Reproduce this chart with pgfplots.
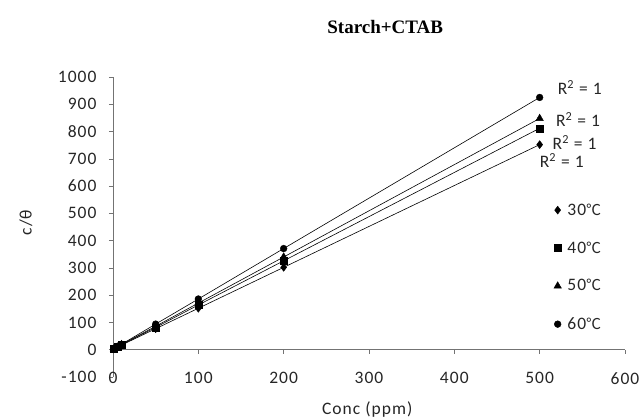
\documentclass[border=0pt]{standalone}
\usepackage{fontspec}
\setmainfont{Carlito}
\newfontfamily\tickfont{Carlito}[LetterSpace=6]
\newfontfamily\titlefont{Liberation Serif}
\newfontfamily\cjk{Noto Sans CJK SC}
\newcommand{\degC}{{\cjk\fontsize{15}{17}\selectfont ℃}}
\usepackage{pgfplots}
\pgfplotsset{compat=1.18}
\begin{document}
\begin{tikzpicture}
\begin{axis}[
  at={(0,0)}, anchor=south west,
  scale only axis, width=512pt, height=300pt,
  xmin=0, xmax=600, ymin=-100, ymax=1000,
  axis x line=middle, axis y line=left,
  hide obscured x ticks=false,
  axis line style={-, black!55, line width=0.6pt},
  xtick={0,100,...,600}, ytick={-100,0,...,1000},
  tick align=outside, major tick length=4pt,
  tick style={black!55, line width=0.6pt},
  xticklabel style={yshift=-15pt},
  yticklabel style={xshift=-9pt},
  /pgf/number format/assume math mode=true,
  /pgf/number format/1000 sep={},
  ticklabel style={font=\tickfont\fontsize{17.5}{19}\selectfont, text=black!85},
  clip=false,
  legend style={at={(axis cs:513,551)}, anchor=north west, draw=none, fill=none,
    font=\tickfont\fontsize{17.5}{19}\selectfont, row sep=21pt, column sep=4pt,
    legend cell align=left, text=black!85},
]
% lines
\addplot[black, line width=0.6pt, forget plot] coordinates {(1,3) (5,9) (10,17) (50,77) (100,152) (200,302) (500,752)};
\addplot[black, line width=0.6pt, forget plot] coordinates {(1,3) (5,10) (10,18) (50,82) (100,164) (200,326) (500,812)};
\addplot[black, line width=0.6pt, forget plot] coordinates {(1,3) (5,10) (10,19) (50,86) (100,171) (200,340) (500,848)};
\addplot[black, line width=0.6pt, forget plot] coordinates {(1,3) (5,11) (10,20) (50,94) (100,186) (200,371) (500,925)};
% markers
\addplot[only marks, mark=diamond*, mark size=4pt, black] coordinates {(1,3) (5,9) (10,17) (50,77) (100,152) (200,302) (500,752)};
\addlegendentry{30\degC}
\addplot[only marks, mark=square*, mark size=3.5pt, black] coordinates {(1,3) (5,10) (10,18) (50,82) (100,164) (200,326) (500,812)};
\addlegendentry{40\degC}
\addplot[only marks, mark=triangle*, mark size=4.3pt, black] coordinates {(1,3) (5,10) (10,19) (50,86) (100,171) (200,340) (500,848)};
\addlegendentry{50\degC}
\addplot[only marks, mark=*, mark size=3.4pt, black] coordinates {(1,3) (5,11) (10,20) (50,94) (100,186) (200,371) (500,925)};
\addlegendentry{60\degC}
% R^2 labels
\node[font=\tickfont\fontsize{17.5}{19}\selectfont, text=black!85] at (axis cs:547,961) {R\textsuperscript{2} = 1};
\node[font=\tickfont\fontsize{17.5}{19}\selectfont, text=black!85] at (axis cs:545,843) {R\textsuperscript{2} = 1};
\node[font=\tickfont\fontsize{17.5}{19}\selectfont, text=black!85] at (axis cs:541,759) {R\textsuperscript{2} = 1};
\node[font=\tickfont\fontsize{17.5}{19}\selectfont, text=black!85] at (axis cs:526,693) {R\textsuperscript{2} = 1};
% labels
\node[font=\titlefont\bfseries\fontsize{19}{21}\selectfont] at (axis cs:319,1184) {Starch+CTAB};
\node[font=\tickfont\fontsize{17.5}{19}\selectfont, text=black!85] at (axis cs:298,-220) {Conc (ppm)};
\node[font=\tickfont\fontsize{17.5}{19}\selectfont, rotate=90, text=black!85] at (axis cs:-102,466) {c/θ};
\end{axis}
\pgfresetboundingbox
\path (-113pt,-42pt) rectangle (528pt,377pt);
\end{tikzpicture}
\end{document}
